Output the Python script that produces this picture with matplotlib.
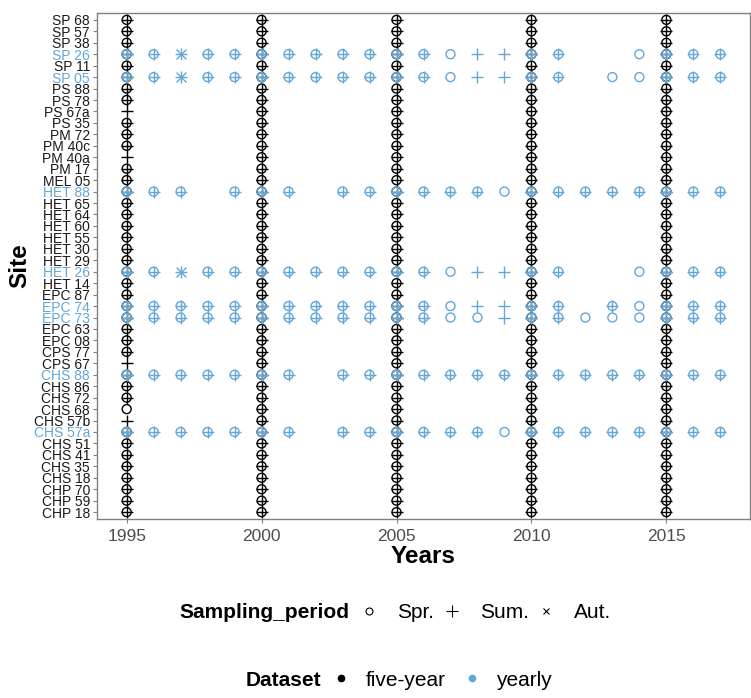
import matplotlib
matplotlib.use("Agg")
import matplotlib.pyplot as plt
from matplotlib.lines import Line2D

plt.rcParams['font.family'] = ['Liberation Sans', 'DejaVu Sans']

# sites, bottom to top
sites = ["CHP 18", "CHP 59", "CHP 70", "CHS 18", "CHS 35", "CHS 41", "CHS 51",
         "CHS 57a", "CHS 57b", "CHS 68", "CHS 72", "CHS 86", "CHS 88", "CPS 67",
         "CPS 77", "EPC 08", "EPC 63", "EPC 73", "EPC 74", "EPC 87", "HET 14",
         "HET 26", "HET 29", "HET 30", "HET 55", "HET 60", "HET 64", "HET 65",
         "HET 88", "MEL 05", "PM 17", "PM 40a", "PM 40c", "PM 72", "PS 35",
         "PS 67a", "PS 78", "PS 88", "SP 05", "SP 11", "SP 26", "SP 38",
         "SP 57", "SP 68"]

# codes: B = Spr.+Sum., O = Spr., P = Sum., A = Sum.+Aut., . = none
fiveyear_years = [1995, 2000, 2005, 2010, 2015]
fiveyear_1995_exceptions = {"PS 67a": "P", "PM 40a": "P", "CPS 67": "P",
                            "CHS 68": "O", "CHS 57b": "P"}

yearly_years = list(range(1995, 2018))
yearly_codes = {
    "SP 26":   "BBABBBBBBBBBOPPBB..OBBB",
    "SP 05":   "BBABBBBBBBBBOPPBB.OOBBB",
    "HET 88":  "BBB.BBB.BBBBBBOBBBBBBBB",
    "HET 26":  "BBABBBBBBBBBOPPBB..OBBB",
    "EPC 74":  "BBBBBBBBBBBBOPPBB.BOBBB",
    "EPC 73":  "BBBBBBBBBBBBOOPBBOOOBBB",
    "CHS 88":  "BBBBBBB.BBBBBBBBBBBBBBB",
    "CHS 57a": "BBBBBBB.BBBBBBOBBBBBBBB",
}

code_seasons = {"B": ["Spr.", "Sum."], "O": ["Spr."], "P": ["Sum."],
                "A": ["Sum.", "Aut."], ".": []}

colors = {"five-year": "black", "yearly": "#63a7d8"}
markers = {"Spr.": dict(marker="o", s=42, facecolors="none"),
           "Sum.": dict(marker="+", s=80),
           "Aut.": dict(marker="x", s=50)}


def collect(entries):
    pts = {k: ([], []) for k in markers}
    for year, site, code in entries:
        for season in code_seasons[code]:
            pts[season][0].append(year)
            pts[season][1].append(sites.index(site) + 1)
    return pts


five_entries = []
for yr in fiveyear_years:
    for s in sites:
        code = fiveyear_1995_exceptions.get(s, "B") if yr == 1995 else "B"
        five_entries.append((yr, s, code))

yearly_entries = []
for s, codes in yearly_codes.items():
    for yr, c in zip(yearly_years, codes):
        yearly_entries.append((yr, s, c))

fig = plt.figure(figsize=(7.51, 6.98), dpi=100)
ax = fig.add_axes([97 / 751, 1 - 519 / 698, 653 / 751, 506 / 698])

for name, entries in [("five-year", five_entries), ("yearly", yearly_entries)]:
    pts = collect(entries)
    for season, kw in markers.items():
        xs, ys = pts[season]
        if not xs:
            continue
        kw = dict(kw)
        if kw.get("facecolors") == "none":
            ax.scatter(xs, ys, edgecolors=colors[name], linewidths=1.0, **kw)
        else:
            ax.scatter(xs, ys, color=colors[name], linewidths=1.0, **kw)

ax.set_xlim(1993.9, 2018.1)
ax.set_ylim(0.4, len(sites) + 0.6)
ax.set_xticks(fiveyear_years)
ax.set_yticks(range(1, len(sites) + 1))
ax.set_yticklabels(sites)
for lab, s in zip(ax.get_yticklabels(), sites):
    lab.set_color(colors["yearly"] if s in yearly_codes else "#1a1a1a")

for sp in ax.spines.values():
    sp.set_color("#808080")
    sp.set_linewidth(1.0)
ax.tick_params(axis="both", length=3, color="#808080", width=0.8)
ax.tick_params(axis="y", labelsize=10, pad=2)
ax.tick_params(axis="x", labelsize=12.5, labelcolor="#4d4d4d", pad=4)

ax.set_xlabel("Years", fontsize=17.5, fontweight="bold", labelpad=1)
ax.set_ylabel("Site", fontsize=17.5, fontweight="bold")
ax.yaxis.set_label_coords(-0.1, 0.5)

# legends
fig.text(349 / 751, 1 - 613 / 698, "Sampling_period", fontsize=15,
         fontweight="bold", ha="right", va="center")
h1 = [Line2D([], [], ls="none", marker="o", mfc="none", mec="black", ms=5, mew=0.8),
      Line2D([], [], ls="none", marker="+", color="black", ms=8, mew=0.8),
      Line2D([], [], ls="none", marker="x", color="black", ms=5, mew=0.8)]
fig.legend(h1, ["Spr.", "Sum.", "Aut."], ncol=3, frameon=False,
           loc="center left", bbox_to_anchor=(361 / 751, 1 - 613 / 698),
           fontsize=15, handlelength=0.8, handletextpad=0.95,
           columnspacing=0.42, borderpad=0, borderaxespad=0)

fig.text(321 / 751, 1 - 680 / 698, "Dataset", fontsize=15,
         fontweight="bold", ha="right", va="center")
h2 = [Line2D([], [], ls="none", marker="o", color="black", ms=4.5),
      Line2D([], [], ls="none", marker="o", color=colors["yearly"], ms=4.5)]
fig.legend(h2, ["five-year", "yearly"], ncol=2, frameon=False,
           loc="center left", bbox_to_anchor=(333 / 751, 1 - 680 / 698),
           fontsize=15, handlelength=0.8, handletextpad=0.75,
           columnspacing=0.9, borderpad=0, borderaxespad=0)

fig.savefig("out.png", dpi=100)
